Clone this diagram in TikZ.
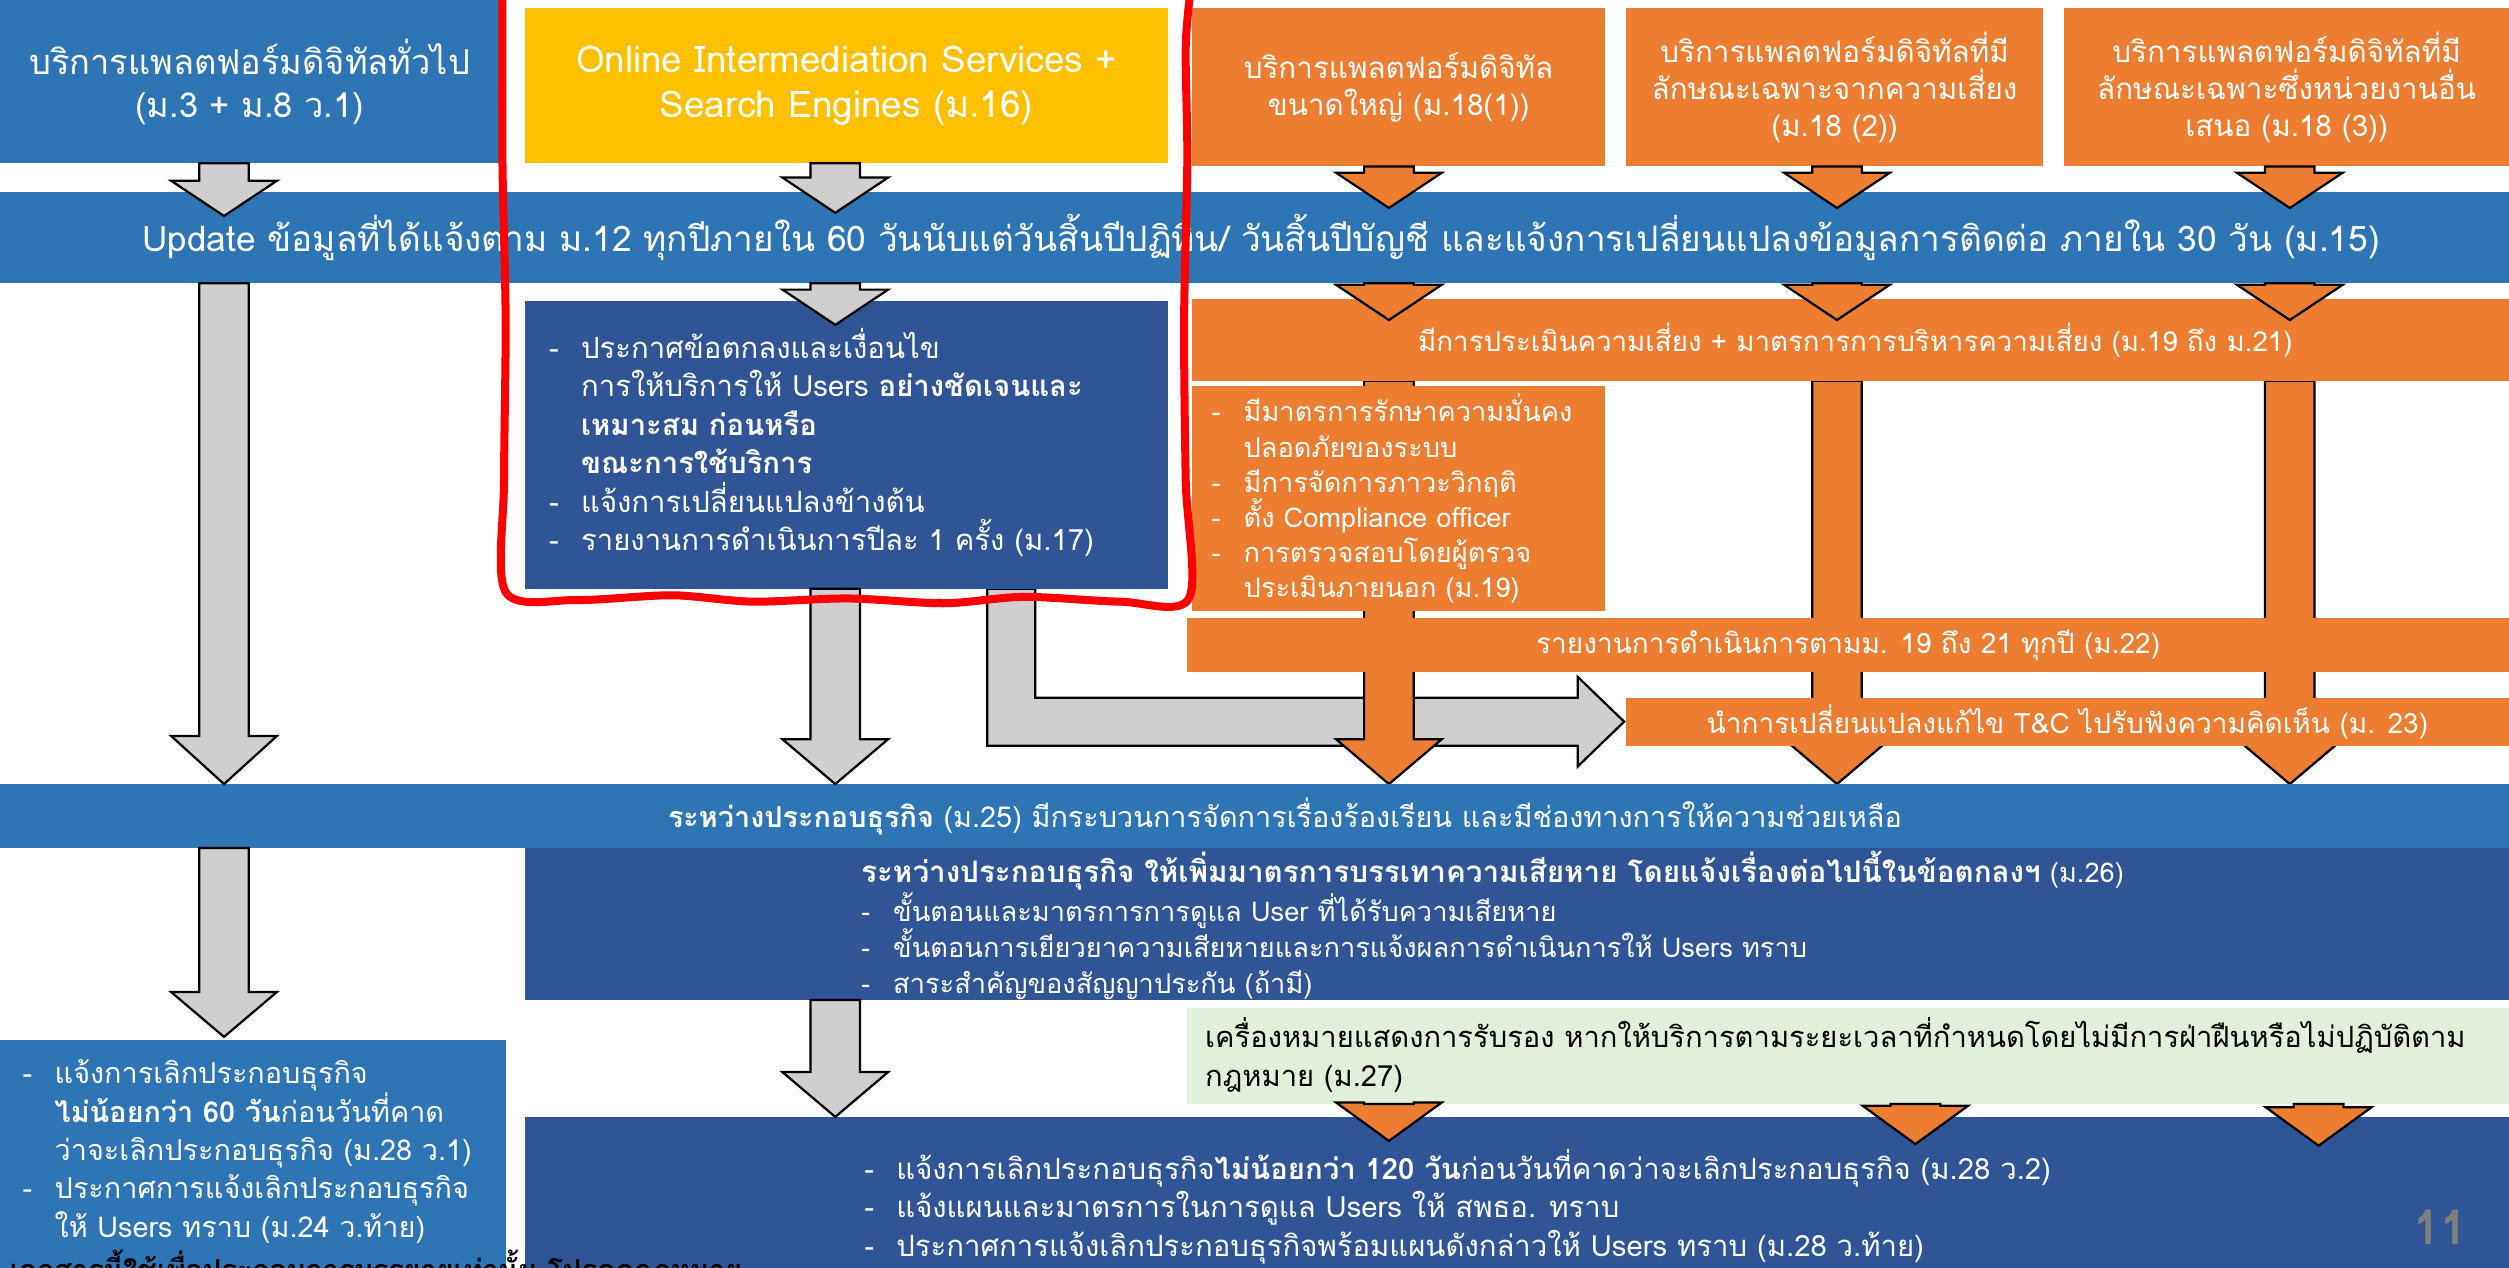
\documentclass[tikz,border=0pt]{standalone}
\usepackage{fontspec}
\setmainfont[Script=Thai]{Loma}
\usetikzlibrary{calc,positioning}
\pgfdeclarelayer{back}
\pgfsetlayers{back,main}

\definecolor{bandblue}{HTML}{2E75B6}
\definecolor{deepblue}{HTML}{2F5597}
\definecolor{risk}{HTML}{ED7D31}
\definecolor{osgold}{HTML}{FFC000}
\definecolor{certgreen}{HTML}{E2EFDA}
\definecolor{shaft}{HTML}{D0CECE}
\definecolor{pagegray}{HTML}{7F7F7F}

\newcommand\sz[2]{\fontsize{#1}{#2}\selectfont}
\newcommand\bul{\makebox[20pt][l]{-}}
\newcommand\ind{\hspace*{20pt}}
% block arrow pointing down: [style]{from}{tip}{head length}
\newcommand\flowdown[4][grayflow]{%
  \draw[#1] let \p1=#2, \p2=#3 in
    (\x1-15.5pt,\y1) -- (\x1+15.5pt,\y1) -- (\x1+15.5pt,\y2+#4) -- (\x1+33pt,\y2+#4)
    -- (\x1,\y2) -- (\x1-33pt,\y2+#4) -- (\x1-15.5pt,\y2+#4) -- cycle;}

\tikzset{
    every picture/.style={x=1pt,y=-1pt},
    panel/.style={anchor=north west,inner sep=0pt,outer sep=0pt,text=white,align=center},
    listtext/.style={anchor=north west,inner sep=0pt,text=white,align=left},
    grayflow/.style={fill=shaft,draw=black,line width=1.4pt,line join=miter},
    orangeflow/.style={fill=risk,draw=black,line width=1.4pt,line join=miter},
    scribble/.style={draw=red,line width=5pt,line cap=round,line join=round}
}

\begin{document}
\begin{tikzpicture}
    \useasboundingbox (0,0) rectangle (1568,792);
    % columns of the arrows
    \coordinate (c1) at (140,0);
    \coordinate (c2) at (522,0);
    \coordinate (c3) at (868,0);
    \coordinate (c4) at (1148,0);
    \coordinate (c5) at (1431,0);
    \coordinate (c6) at (632,0);
    \coordinate (d4) at (1197,0);
    \coordinate (d5) at (1449,0);

    % top row
    \node[panel,fill=bandblue,minimum width=312,minimum height=102,font=\sz{21.5}{27}] (gen) at (0,0)
        {บริการแพลตฟอร์มดิจิทัลทั่วไป\\(ม.3 + ม.8 ว.1)};
    \node[panel,fill=osgold,minimum width=402,minimum height=97,font=\sz{23}{28}] (ois) at (328,5)
        {Online Intermediation Services +\\Search Engines (ม.16)};
    \node[panel,fill=risk,minimum width=258,minimum height=99,font=\sz{18.5}{23}] (large) at (745,5)
        {บริการแพลตฟอร์มดิจิทัล\\ขนาดใหญ่ (ม.18(1))};
    \node[panel,fill=risk,minimum width=261,minimum height=99,font=\sz{18.5}{23}] (riskp) at (1016,5)
        {บริการแพลตฟอร์มดิจิทัลที่มี\\ลักษณะเฉพาะจากความเสี่ยง\\(ม.18 (2))};
    \node[panel,fill=risk,minimum width=278,minimum height=99,font=\sz{18.5}{23}] (other) at (1290,5)
        {บริการแพลตฟอร์มดิจิทัลที่มี\\ลักษณะเฉพาะซึ่งหน่วยงานอื่น\\เสนอ (ม.18 (3))};

    \node[panel,fill=bandblue,minimum width=1568,minimum height=57,font=\sz{22}{27}] (upd) at (0,120)
        {\hspace*{8pt}Update ข้อมูลที่ได้แจ้งตาม ม.12 ทุกปีภายใน 60 วันนับแต่วันสิ้นปีปฏิทิน/ วันสิ้นปีบัญชี และแจ้งการเปลี่ยนแปลงข้อมูลการติดต่อ ภายใน 30 วัน (ม.15)};

    % middle part
    \node[panel,fill=deepblue,minimum width=402,minimum height=180] (terms) at (328,188) {};
    \node[listtext,font=\sz{18.3}{24}] (termstxt) at (343,205)
        {\bul ประกาศข้อตกลงและเงื่อนไข\\
         \ind การให้บริการให้ Users \textbf{อย่างชัดเจนและ}\\
         \ind \textbf{เหมาะสม ก่อนหรือ}\\
         \ind \textbf{ขณะการใช้บริการ}\\
         \bul แจ้งการเปลี่ยนแปลงข้างต้น\\
         \bul รายงานการดำเนินการปีละ 1 ครั้ง (ม.17)};
    \node[panel,fill=risk,minimum width=823,minimum height=51,font=\sz{17.3}{22}] (assess) at (745,187)
        {\hspace*{6pt}มีการประเมินความเสี่ยง + มาตรการการบริหารความเสี่ยง (ม.19 ถึง ม.21)};
    \node[panel,fill=risk,minimum width=258,minimum height=141] (secure) at (745,241) {};
    \node[listtext,font=\sz{17}{22}] (securetxt) at (757,246)
        {\bul มีมาตรการรักษาความมั่นคง\\
         \ind ปลอดภัยของระบบ\\
         \bul มีการจัดการภาวะวิกฤติ\\
         \bul ตั้ง Compliance officer\\
         \bul การตรวจสอบโดยผู้ตรวจ\\
         \ind ประเมินภายนอก (ม.19)};
    \node[panel,fill=risk,minimum width=826,minimum height=34,font=\sz{17.5}{22}] (report) at (742,386)
        {รายงานการดำเนินการตามม. 19 ถึง 21 ทุกปี (ม.22)};
    \node[panel,fill=risk,minimum width=552,minimum height=30,font=\sz{17.5}{22}] (tc) at (1016,436)
        {นำการเปลี่ยนแปลงแก้ไข T\&C ไปรับฟังความคิดเห็น (ม. 23)};

    \node[panel,fill=bandblue,minimum width=1568,minimum height=40,font=\sz{18}{22}] (during) at (0,490)
        {\hspace*{38pt}\textbf{ระหว่างประกอบธุรกิจ} (ม.25) มีกระบวนการจัดการเรื่องร้องเรียน และมีช่องทางการให้ความช่วยเหลือ};
    \node[panel,fill=deepblue,minimum width=1240,minimum height=95] (harm) at (328,530) {};
    \node[listtext,font=\sz{17}{22.5}] (harmtxt) at (538,532)
        {{\sz{18.5}{22.5}\textbf{ระหว่างประกอบธุรกิจ ให้เพิ่มมาตรการบรรเทาความเสียหาย โดยแจ้งเรื่องต่อไปนี้ในข้อตกลงฯ}} (ม.26)\\
         \bul ขั้นตอนและมาตรการการดูแล User ที่ได้รับความเสียหาย\\
         \bul ขั้นตอนการเยียวยาความเสียหายและการแจ้งผลการดำเนินการให้ Users ทราบ\\
         \bul สาระสำคัญของสัญญาประกัน (ถ้ามี)};
    \node[panel,fill=certgreen,minimum width=826,minimum height=60] (cert) at (742,630) {};
    \node[listtext,text=black,font=\sz{18.2}{24}] (certtxt) at (753,636)
        {เครื่องหมายแสดงการรับรอง หากให้บริการตามระยะเวลาที่กำหนดโดยไม่มีการฝ่าฝืนหรือไม่ปฏิบัติตาม\\
         กฎหมาย (ม.27)};

    % closing the business
    \node[panel,fill=bandblue,minimum width=316,minimum height=150] (quit) at (0,650) {};
    \node[listtext,font=\sz{18}{24}] (quittxt) at (14,662)
        {\bul แจ้งการเลิกประกอบธุรกิจ\\
         \ind \textbf{ไม่น้อยกว่า 60 วัน}ก่อนวันที่คาด\\
         \ind ว่าจะเลิกประกอบธุรกิจ (ม.28 ว.1)\\
         \bul ประกาศการแจ้งเลิกประกอบธุรกิจ\\
         \ind ให้ Users ทราบ (ม.24 ว.ท้าย)};
    \node[panel,fill=deepblue,minimum width=1240,minimum height=100] (quit2) at (328,698) {};
    \node[listtext,font=\sz{18.3}{24}] (quit2txt) at (540,718)
        {\bul แจ้งการเลิกประกอบธุรกิจ\textbf{ไม่น้อยกว่า 120 วัน}ก่อนวันที่คาดว่าจะเลิกประกอบธุรกิจ (ม.28 ว.2)\\
         \bul แจ้งแผนและมาตรการในการดูแล Users ให้ สพธอ. ทราบ\\
         \bul ประกาศการแจ้งเลิกประกอบธุรกิจพร้อมแผนดังกล่าวให้ Users ทราบ (ม.28 ว.ท้าย)};
    \node[text=pagegray,font=\bfseries\sz{30}{30}] (pg) at (1525,767) {11};
    \node[anchor=base west,inner sep=0pt,font=\bfseries\sz{18}{18}] (note) at (6,800)
        {เอกสารนี้ใช้เพื่อประกอบการบรรยายเท่านั้น โปรดดูกฎหมาย};

    % long arrows behind the boxes
    \begin{pgfonlayer}{back}
    \draw[grayflow] let \p1=(terms.south -| c6), \p2=(tc.west) in
        (\x1-15pt,\y1) -- (\x1+15pt,\y1) -- (\x1+15pt,\y2+15pt) -- (\x2-30pt,\y2+15pt)
        -- (\x2-30pt,\y2+28pt) -- (\x2-1pt,\y2) -- (\x2-30pt,\y2-28pt) -- (\x2-30pt,\y2-15pt)
        -- (\x1-15pt,\y2-15pt) -- cycle;
    \flowdown[orangeflow]{(assess.south -| c3)}{(during.north -| c3)}{28pt}
    \flowdown[orangeflow]{(assess.south -| c4)}{(during.north -| c4)}{28pt}
    \flowdown[orangeflow]{(assess.south -| c5)}{(during.north -| c5)}{28pt}
    \end{pgfonlayer}

    % arrows into the update band
    \flowdown{(gen.south -| c1)}{($(upd.north -| c1)+(0,15)$)}{22pt}
    \flowdown{(ois.south -| c2)}{($(upd.north -| c2)+(0,13)$)}{22pt}
    \flowdown[orangeflow]{(large.south -| c3)}{($(upd.north -| c3)+(0,10)$)}{22pt}
    \flowdown[orangeflow]{(riskp.south -| c4)}{($(upd.north -| c4)+(0,10)$)}{22pt}
    \flowdown[orangeflow]{(other.south -| c5)}{($(upd.north -| c5)+(0,10)$)}{22pt}

    % arrows out of the update band
    \flowdown{(upd.south -| c1)}{(during.north -| c1)}{30pt}
    \flowdown{(upd.south -| c2)}{($(terms.north -| c2)+(0,15)$)}{22pt}
    \flowdown[orangeflow]{(upd.south -| c3)}{($(assess.north -| c3)+(0,13)$)}{22pt}
    \flowdown[orangeflow]{(upd.south -| c4)}{($(assess.north -| c4)+(0,13)$)}{22pt}
    \flowdown[orangeflow]{(upd.south -| c5)}{($(assess.north -| c5)+(0,13)$)}{22pt}
    \flowdown{(terms.south -| c2)}{(during.north -| c2)}{28pt}

    % arrows to the closing boxes
    \flowdown{(during.south -| c1)}{($(quit.north -| c1)+(0,-2)$)}{28pt}
    \flowdown{(harm.south -| c2)}{(quit2.north -| c2)}{28pt}
    \flowdown[orangeflow]{(cert.south -| c3)}{($(quit2.north -| c3)+(0,15)$)}{24pt}
    \flowdown[orangeflow]{(cert.south -| d4)}{($(quit2.north -| d4)+(0,17)$)}{24pt}
    \flowdown[orangeflow]{(cert.south -| d5)}{($(quit2.north -| d5)+(0,18)$)}{24pt}

    % hand drawn frame
    \draw[scribble] plot[smooth] coordinates {(314,-6) (314,100) (316,200) (315,300) (316,370)
        (360,375) (420,372) (470,376) (530,374) (590,377) (640,373) (700,376) (743,374)
        (741,300) (740,200) (742,100) (741,30) (744,-6)};
\end{tikzpicture}
\end{document}
